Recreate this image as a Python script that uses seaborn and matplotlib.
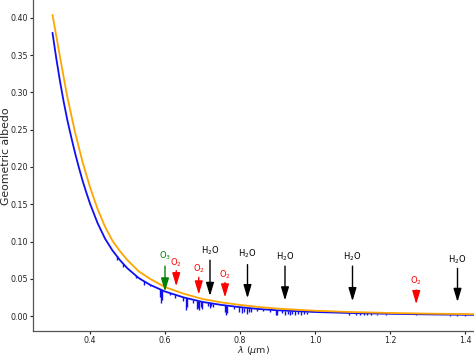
import numpy as np
import matplotlib
matplotlib.use('Agg')
import matplotlib.pyplot as plt
import seaborn as sns

# continuum of the two albedo spectra
wl_blue = [0.30, 0.31, 0.32, 0.33, 0.34, 0.35, 0.36, 0.37, 0.38, 0.39, 0.40, 0.42, 0.44, 0.46,
           0.48, 0.50, 0.53, 0.56, 0.60, 0.65, 0.70, 0.75, 0.80, 0.85, 0.90, 1.00, 1.10, 1.20,
           1.30, 1.43]
alb_blue = [0.380, 0.346, 0.315, 0.287, 0.262, 0.240, 0.219, 0.200, 0.182, 0.166, 0.151, 0.125,
            0.104, 0.088, 0.075, 0.064, 0.051, 0.042, 0.033, 0.025, 0.019, 0.015, 0.012, 0.0095,
            0.0078, 0.0055, 0.0041, 0.0031, 0.0023, 0.0016]

wl_orange = wl_blue
alb_orange = [0.404, 0.376, 0.348, 0.320, 0.293, 0.270, 0.247, 0.227, 0.207, 0.190, 0.173, 0.144,
              0.120, 0.101, 0.087, 0.075, 0.060, 0.050, 0.039, 0.030, 0.023, 0.0184, 0.0150, 0.0122,
              0.0100, 0.0072, 0.0054, 0.0042, 0.0033, 0.0025]

# absorption lines in the blue spectrum (wavelength, bottom of the dip)
dip_wl = [0.471, 0.489, 0.507, 0.524, 0.544, 0.561, 0.587, 0.590, 0.593, 0.613, 0.628, 0.648,
          0.656, 0.660, 0.675, 0.686, 0.689, 0.692, 0.695, 0.700, 0.715, 0.719, 0.724, 0.729,
          0.760, 0.762, 0.765, 0.785, 0.798, 0.805, 0.812, 0.818, 0.823, 0.830, 0.845, 0.862,
          0.880, 0.895, 0.899, 0.912, 0.920, 0.927, 0.934, 0.940, 0.947, 0.955, 0.962, 0.970,
          0.978, 1.09, 1.11, 1.12, 1.13, 1.14, 1.15, 1.165, 1.19, 1.27, 1.34, 1.36, 1.38, 1.40]
dip_lo = [0.075, 0.066, 0.060, 0.051, 0.042, 0.040, 0.025, 0.018, 0.022, 0.028, 0.024, 0.020,
          0.008, 0.012, 0.017, 0.009, 0.011, 0.008, 0.012, 0.010, 0.013, 0.011, 0.014, 0.012,
          0.005, 0.001, 0.004, 0.010, 0.005, 0.004, 0.006, 0.003, 0.005, 0.006, 0.007, 0.007,
          0.006, 0.001, 0.002, 0.004, 0.002, 0.003, 0.001, 0.003, 0.002, 0.003, 0.002, 0.003,
          0.003, 0.002, 0.001, 0.002, 0.001, 0.002, 0.001, 0.002, 0.002, 0.0015, 0.001, 0.0005, 0.0005, 0.0008]

# molecular band markers
arr_wl = [0.60, 0.63, 0.69, 0.72, 0.76, 0.82, 0.92, 1.10, 1.27, 1.38]
arr_lab = ['O$_3$', 'O$_2$', 'O$_2$', 'H$_2$O', 'O$_2$', 'H$_2$O', 'H$_2$O', 'H$_2$O', 'O$_2$', 'H$_2$O']
arr_col = ['green', 'red', 'red', 'black', 'red', 'black', 'black', 'black', 'red', 'black']
arr_txt = [0.081, 0.072, 0.063, 0.087, 0.056, 0.083, 0.080, 0.079, 0.048, 0.076]
arr_top = [0.067, 0.061, 0.052, 0.075, 0.045, 0.069, 0.067, 0.067, 0.035, 0.064]
arr_bot = [0.033, 0.040, 0.029, 0.027, 0.025, 0.024, 0.021, 0.020, 0.016, 0.019]

sns.set_style('ticks')
plt.rcParams['font.family'] = ['DejaVu Sans']

fig = plt.figure(figsize=(4.74, 3.57), dpi=100)
ax = fig.add_axes([0.0696, 0.0728, 1 - 0.0696, 0.9272])

sns.lineplot(x=wl_blue, y=alb_blue, ax=ax, color='#1010ee', lw=1.3, sort=False)
dip_top = np.interp(dip_wl, wl_blue, alb_blue)
ax.vlines(dip_wl, dip_lo, dip_top, color='#1010ee', lw=1.0)
sns.lineplot(x=wl_orange, y=alb_orange, ax=ax, color='orange', lw=1.3, sort=False)

for w, lab, c, t, hi, lo in zip(arr_wl, arr_lab, arr_col, arr_txt, arr_top, arr_bot):
    ax.annotate('', xy=(w, lo), xytext=(w, hi),
                arrowprops=dict(arrowstyle='-|>,head_length=0.8,head_width=0.24',
                                color=c, lw=1.0, mutation_scale=10,
                                shrinkA=0, shrinkB=0))
    ax.text(w, t, lab, ha='center', va='center', fontsize=6, color=c)

ax.set_xlim(0.248, 1.424)
ax.set_ylim(-0.02, 0.424)
ax.set_xticks([0.4, 0.6, 0.8, 1.0, 1.2, 1.4])
ax.set_xticklabels(['0.4', '0.6', '0.8', '1.0', '1.2', '1.4'])
ax.set_yticks(np.arange(0, 0.41, 0.05))
ax.set_yticklabels([f'{v:.2f}' for v in np.arange(0, 0.41, 0.05)])
ax.tick_params(labelsize=5.7, length=2.2, width=0.8, colors='#222222', pad=1.2)
for s in ['left', 'bottom']:
    ax.spines[s].set_color('#555555')
    ax.spines[s].set_linewidth(0.9)
sns.despine(ax=ax)
ax.set_xlabel(r'$\lambda$ ($\mu$m)', fontsize=6.8)
ax.set_ylabel('Geometric albedo', fontsize=7.8)
ax.xaxis.set_label_coords(0.5, -0.038)
ax.yaxis.set_label_coords(-0.05, 0.528)

fig.savefig('out.png', dpi=100)
